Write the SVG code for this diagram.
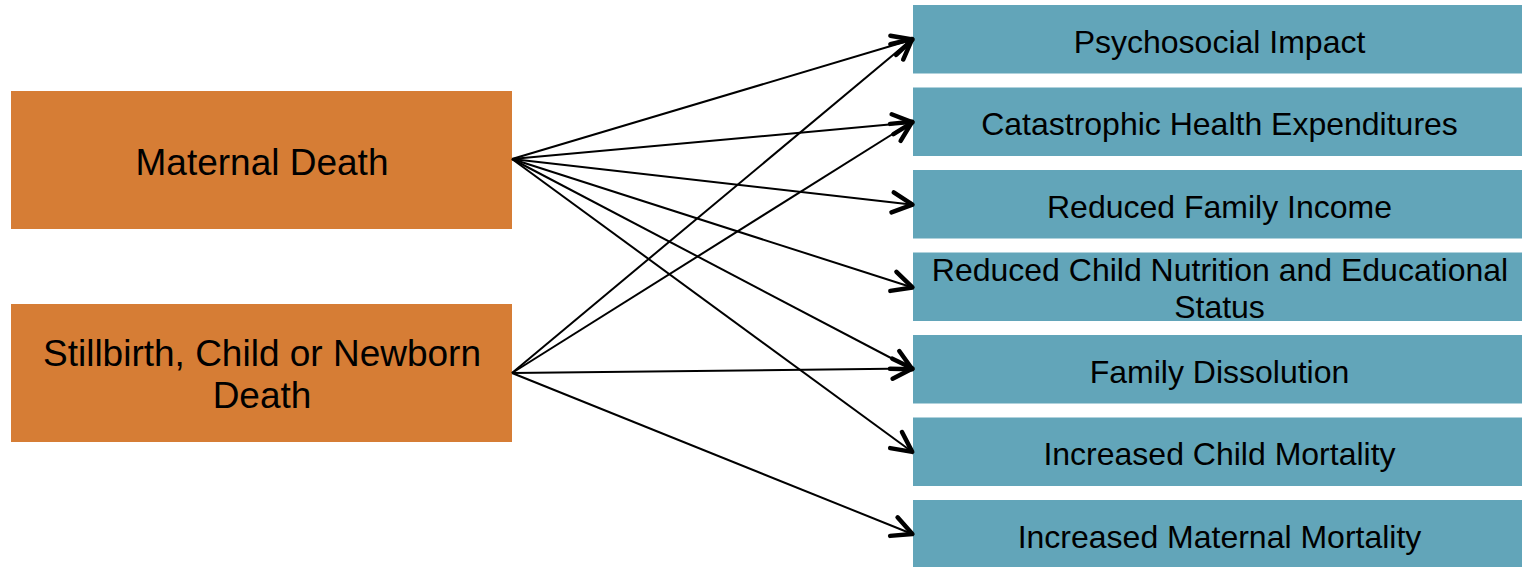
<svg xmlns="http://www.w3.org/2000/svg" width="1522" height="567" viewBox="0 0 1522 567">
<style>
.src{fill:#D67D35}
.dst{fill:#62A5B9}
.lt{font-family:"Liberation Sans",Arial,sans-serif;font-size:37px;fill:#000;text-anchor:middle}
.rt{font-family:"Liberation Sans",Arial,sans-serif;font-size:32px;fill:#000;text-anchor:middle}
.cn{stroke:#000;stroke-width:2;fill:none;marker-end:url(#ah)}
</style>
<defs>
<marker id="ah" markerUnits="userSpaceOnUse" viewBox="-24 -14 28 28" refX="-1.5" refY="0" markerWidth="28" markerHeight="28" orient="auto">
<path d="M-20,-10 L0,0 L-20,10" fill="none" stroke="#000" stroke-width="4.5" stroke-linecap="round" stroke-linejoin="round"/>
</marker>
</defs>
<rect width="1522" height="567" fill="#fff"/>
<g id="n-maternal-death"><rect class="src" x="11" y="91" width="501" height="138"/><text class="lt" x="262" y="175">Maternal Death</text></g>
<g id="n-stillbirth"><rect class="src" x="11" y="304" width="501" height="138"/><text class="lt" x="262" y="366">Stillbirth, Child or Newborn</text><text class="lt" x="262" y="408">Death</text></g>
<g id="n-psychosocial"><rect class="dst" x="913" y="5" width="609" height="68.5"/><text class="rt" x="1219.5" y="52.5">Psychosocial Impact</text></g>
<g id="n-catastrophic"><rect class="dst" x="913" y="87.5" width="609" height="68.5"/><text class="rt" x="1219.5" y="135">Catastrophic Health Expenditures</text></g>
<g id="n-income"><rect class="dst" x="913" y="170" width="609" height="68.5"/><text class="rt" x="1219.5" y="217.5">Reduced Family Income</text></g>
<g id="n-nutrition"><rect class="dst" x="913" y="252.5" width="609" height="68.5"/><text class="rt" x="1220" y="280.5">Reduced Child Nutrition and Educational</text><text class="rt" x="1219.5" y="318">Status</text></g>
<g id="n-dissolution"><rect class="dst" x="913" y="335" width="609" height="68.5"/><text class="rt" x="1219.5" y="382.5">Family Dissolution</text></g>
<g id="n-child-mortality"><rect class="dst" x="913" y="417.5" width="609" height="68.5"/><text class="rt" x="1219.5" y="465">Increased Child Mortality</text></g>
<g id="n-maternal-mortality"><rect class="dst" x="913" y="500" width="609" height="68.5"/><text class="rt" x="1219.5" y="547.5">Increased Maternal Mortality</text></g>
<g id="connectors">
<line class="cn" x1="512" y1="159" x2="911" y2="40"/>
<line class="cn" x1="512" y1="159" x2="911" y2="122.5"/>
<line class="cn" x1="512" y1="159" x2="911" y2="204.5"/>
<line class="cn" x1="512" y1="159" x2="911" y2="287"/>
<line class="cn" x1="512" y1="159" x2="911" y2="368.5"/>
<line class="cn" x1="512" y1="159" x2="911" y2="451"/>
<line class="cn" x1="512" y1="373" x2="911" y2="40"/>
<line class="cn" x1="512" y1="373" x2="911" y2="122.5"/>
<line class="cn" x1="512" y1="373" x2="911" y2="368.5"/>
<line class="cn" x1="512" y1="373" x2="911" y2="533.5"/>
</g>
</svg>
